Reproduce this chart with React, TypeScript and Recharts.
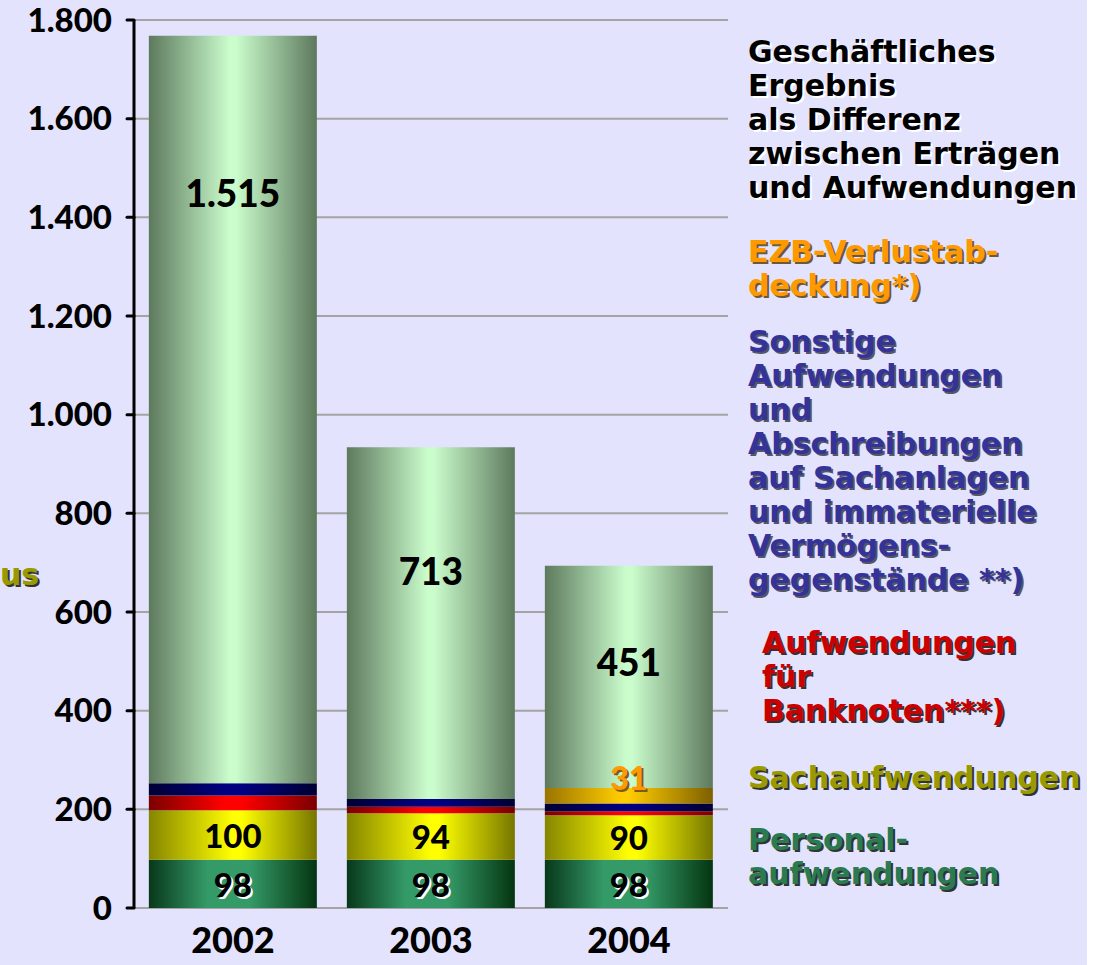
import React from 'react';
import {
  Bar,
  BarChart,
  CartesianGrid,
  LabelList,
  XAxis,
  YAxis,
} from 'recharts';

const years = ['2002', '2003', '2004'];
const personal = [98, 98, 98];
const sachaufwand = [100, 94, 90];
const banknoten = [30, 13, 8];
const sonstige = [25, 16, 16];
const ezbVerlust = [0, 0, 31];
const ergebnis = [1515, 713, 451];
const yTicks = [0, 200, 400, 600, 800, 1000, 1200, 1400, 1600, 1800];

const data = years.map((year, i) => ({
  year,
  personal: personal[i],
  sach: sachaufwand[i],
  banknoten: banknoten[i],
  sonstige: sonstige[i],
  ezb: ezbVerlust[i],
  ergebnis: ergebnis[i],
}));

// where the big result label sits inside its segment (share of segment height, from top)
const resultLabelShift = [0.21, 0.35, 0.43];

const NUM_FONT = 'Lato, "DejaVu Sans", sans-serif';
const TXT_FONT = '"DejaVu Sans", sans-serif';

const fmt = (v: number) =>
  String(v).replace(/\B(?=(\d{3})+(?!\d))/g, '.');

function ShadowText({ x, y, text, size, fill, shadow }: any) {
  return (
    <g fontFamily={NUM_FONT} fontWeight={900} fontSize={size} textAnchor="middle" dominantBaseline="central">
      {shadow && (
        <text x={x + 2} y={y + 2} fill={shadow}>
          {text}
        </text>
      )}
      <text x={x} y={y} fill={fill}>
        {text}
      </text>
    </g>
  );
}

const centerLabel = (fill: string, shadow?: string) => (props: any) => {
  const { x, y, width, height, value } = props;
  if (!value) return null;
  return (
    <ShadowText
      x={Number(x) + Number(width) / 2}
      y={Number(y) + Number(height) / 2}
      text={fmt(value)}
      size={33}
      fill={fill}
      shadow={shadow}
    />
  );
};

const resultLabel = (props: any) => {
  const { x, y, width, height, value, index } = props;
  return (
    <ShadowText
      x={Number(x) + Number(width) / 2}
      y={Number(y) + Number(height) * resultLabelShift[index]}
      text={fmt(value)}
      size={37}
      fill="#000"
    />
  );
};

const ezbLabel = (props: any) => {
  const { x, y, width, value } = props;
  if (!value) return null;
  return (
    <ShadowText
      x={Number(x) + Number(width) / 2}
      y={Number(y) - 11}
      text={fmt(value)}
      size={32}
      fill="#FF9900"
      shadow="#7a5a20"
    />
  );
};

function Grad({ id, edge, mid, edge2, from = 0.5, to = 0.5 }: any) {
  return (
    <linearGradient id={id} x1="0" y1="0" x2="1" y2="0">
      <stop offset="0%" stopColor={edge} />
      <stop offset={`${from * 100}%`} stopColor={mid} />
      <stop offset={`${to * 100}%`} stopColor={mid} />
      <stop offset="100%" stopColor={edge2 || edge} />
    </linearGradient>
  );
}

const legendBlocks = [
  { top: 35, left: 748, color: '#000000', shadow: '#ffffff', lines: ['Geschäftliches', 'Ergebnis', 'als Differenz', 'zwischen Erträgen', 'und Aufwendungen'] },
  { top: 235, left: 748, color: '#FF9900', shadow: '#6b5a3a', lines: ['EZB-Verlustab-', 'deckung*)'] },
  { top: 325, left: 748, color: '#333399', shadow: '#555566', lines: ['Sonstige', 'Aufwendungen', 'und', 'Abschreibungen', 'auf Sachanlagen', 'und immaterielle', 'Vermögens-', 'gegenstände **)'] },
  { top: 626, left: 762, color: '#CC0000', shadow: '#333333', lines: ['Aufwendungen', 'für', 'Banknoten***)'] },
  { top: 761, left: 748, color: '#999900', shadow: '#333333', lines: ['Sachaufwendungen'] },
  { top: 823, left: 748, color: '#2A7A52', shadow: '#333333', lines: ['Personal-', 'aufwendungen'] },
];

export default function App() {
  return (
    <div style={{ position: 'absolute', left: 0, top: 0, width: 1106, height: 965, background: '#ffffff', overflow: 'hidden' }}>
      <div style={{ position: 'absolute', left: 0, top: 0, width: 1087, height: 965, background: '#E3E3FD' }} />
      <div style={{ position: 'absolute', left: 0, top: 0 }}>
        <BarChart
          width={740}
          height={965}
          data={data}
          margin={{ top: 20, right: 12, bottom: 0, left: 0 }}
          barCategoryGap="7.5%"
        >
          <defs>
            <Grad id="gErg" edge="#5D795D" mid="#CAFCCC" from={0.48} to={0.52} />
            <Grad id="gEzb" edge="#9A7400" mid="#FFCC00" edge2="#7D5F00" from={0.45} to={0.5} />
            <Grad id="gSon" edge="#000033" mid="#000080" from={0.45} to={0.55} />
            <Grad id="gBank" edge="#7A0000" mid="#FF0000" from={0.45} to={0.55} />
            <Grad id="gSach" edge="#858500" mid="#FFFF00" edge2="#767600" from={0.5} to={0.55} />
            <Grad id="gPers" edge="#08381A" mid="#349A68" edge2="#043510" from={0.35} to={0.6} />
          </defs>
          <CartesianGrid vertical={false} stroke="#A4A4A4" strokeWidth={2} />
          <XAxis
            xAxisId="edge"
            type="number"
            domain={[0, 3]}
            ticks={[0, 1, 2, 3]}
            tick={false}
            height={0}
            axisLine={{ stroke: '#000', strokeWidth: 3 }}
            tickLine={{ stroke: '#000', strokeWidth: 2 }}
            tickSize={12}
          />
          <XAxis
            dataKey="year"
            axisLine={false}
            tickLine={false}
            height={57}
            tickMargin={13}
            tick={{ fontFamily: NUM_FONT, fontWeight: 900, fontSize: 36, fill: '#000' }}
          />
          <YAxis
            width={134}
            domain={[0, 1800]}
            ticks={yTicks}
            interval={0}
            tickFormatter={fmt}
            axisLine={{ stroke: '#000', strokeWidth: 3 }}
            tickLine={{ stroke: '#000', strokeWidth: 3, strokeLinecap: 'round' }}
            tickSize={7}
            tickMargin={15}
            tick={{ fontFamily: NUM_FONT, fontWeight: 900, fontSize: 33, fill: '#000' }}
          />
          <Bar dataKey="personal" stackId="a" fill="url(#gPers)" isAnimationActive={false}>
            <LabelList dataKey="personal" content={centerLabel('#000', '#ffffff')} />
          </Bar>
          <Bar dataKey="sach" stackId="a" fill="url(#gSach)" isAnimationActive={false}>
            <LabelList dataKey="sach" content={centerLabel('#000')} />
          </Bar>
          <Bar dataKey="banknoten" stackId="a" fill="url(#gBank)" isAnimationActive={false} />
          <Bar dataKey="sonstige" stackId="a" fill="url(#gSon)" isAnimationActive={false} />
          <Bar dataKey="ezb" stackId="a" fill="url(#gEzb)" isAnimationActive={false}>
            <LabelList dataKey="ezb" content={ezbLabel} />
          </Bar>
          <Bar dataKey="ergebnis" stackId="a" fill="url(#gErg)" isAnimationActive={false}>
            <LabelList dataKey="ergebnis" content={resultLabel} />
          </Bar>
        </BarChart>
      </div>
      <div
        style={{
          position: 'absolute',
          left: 0,
          top: 558,
          fontFamily: TXT_FONT,
          fontWeight: 700,
          fontSize: 30,
          lineHeight: '34px',
          color: '#999900',
          textShadow: '2px 2px 0 #333',
          whiteSpace: 'nowrap',
        }}
      >
        us
      </div>
      {legendBlocks.map((b) => (
        <div
          key={b.lines[0]}
          style={{
            position: 'absolute',
            left: b.left,
            top: b.top,
            fontFamily: TXT_FONT,
            fontWeight: 700,
            fontSize: 30,
            lineHeight: '34px',
            color: b.color,
            textShadow: `2px 2px 0 ${b.shadow}`,
            whiteSpace: 'nowrap',
          }}
        >
          {b.lines.map((l) => (
            <div key={l}>{l}</div>
          ))}
        </div>
      ))}
    </div>
  );
}
